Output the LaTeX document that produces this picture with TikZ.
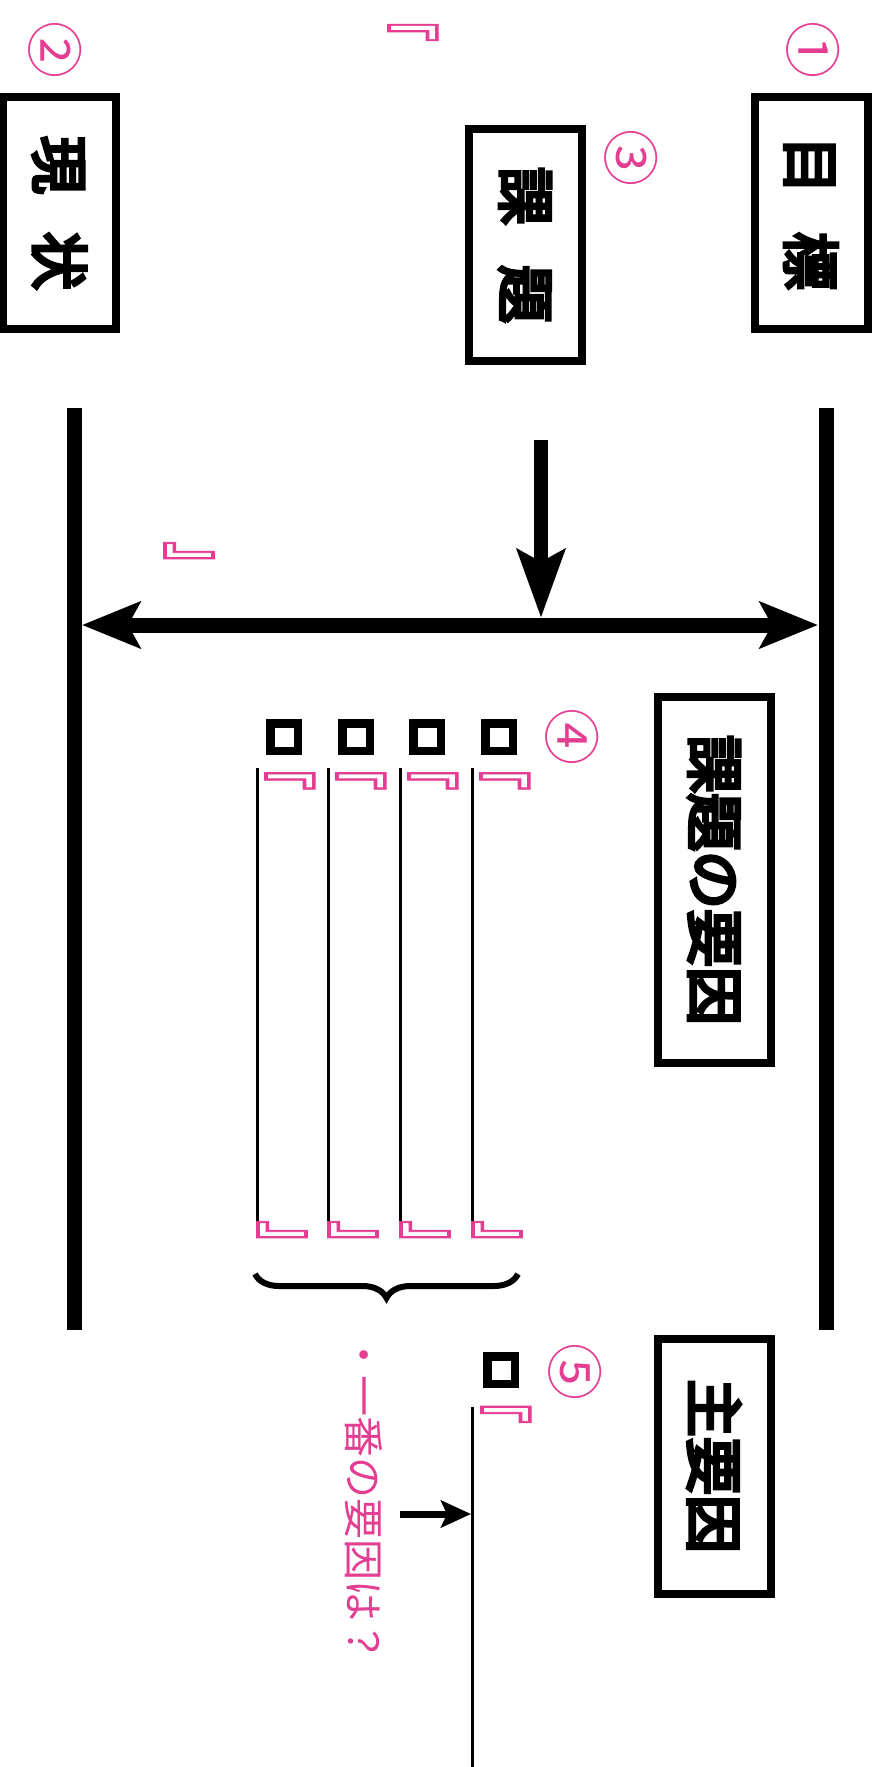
\documentclass[tikz,border=0pt]{standalone}
\usepackage{fontspec}
\newfontfamily\jp{Noto Sans CJK JP}
\newfontfamily\jpb{Noto Sans CJK JP}[FakeBold=6]
\newfontfamily\jpm{Noto Sans CJK JP}[FakeBold=1.5]
\usetikzlibrary{arrows.meta,decorations.pathreplacing}
\definecolor{pk}{RGB}{228,62,146}
\newcommand{\lbrk}{\scalebox{0.6}[1]{『}}
\newcommand{\rbrk}{\scalebox{0.6}[1]{』}}
\begin{document}
\begin{tikzpicture}[x=1pt,y=-1pt,
  box/.style={draw, line width=8pt, rotate=-90, inner sep=0pt, minimum height=113pt, font=\jpb\fontsize{58pt}{58pt}\selectfont},
  num/.style={rotate=-90, text=pk, font=\jp\fontsize{57pt}{57pt}\selectfont, inner sep=0pt},
  brk/.style={rotate=-90, text=pk, font=\jpm\fontsize{76pt}{76pt}\selectfont, inner sep=0pt},
  sq/.style={draw, line width=8.5pt, minimum size=27.5pt, inner sep=0pt},
  thinline/.style={line width=3pt},
  thickline/.style={line width=15pt},
]
\useasboundingbox (0,0) rectangle (878,1767);
% boxes
\node[box, minimum width=232pt] (mokuhyo) at (811,213) {目\hspace{38pt}標};
\node[box, minimum width=232pt] (genjo) at (59.5,213) {現\hspace{38pt}状};
\node[box, minimum width=232pt] (kadai) at (525,245) {課\hspace{40pt}題};
\node[box, minimum width=366pt] (yoin) at (714,880) {課題の要因};
\node[box, minimum width=255pt] (shuyoin) at (714,1466) {主要因};
% circled numbers
\node[num] (n1) at (813,50) {①};
\node[num] (n2) at (55,50) {②};
\node[num] (n3) at (631,158) {③};
\node[num] (n4) at (572,737) {④};
\node[num] (n5) at (575,1372) {⑤};
% main vertical lines
\coordinate (L1) at (74,408); \coordinate (L2) at (74,1330);
\coordinate (R1) at (826,408); \coordinate (R2) at (826,1330);
\draw[thickline] (L1) -- (L2);
\draw[thickline] (R1) -- (R2);
% double arrow
\coordinate (dl) at (82,625); \coordinate (dr) at (818,625);
\draw[thickline, {Stealth[length=58pt,width=46pt,inset=12pt]}-{Stealth[length=58pt,width=46pt,inset=12pt]}] (dl) -- (dr);
% down arrow
\coordinate (d1) at (541,440); \coordinate (d2) at (541,618);
\draw[line width=14pt, -{Stealth[length=68pt,width=47pt,inset=12pt]}] (d1) -- (d2);
% brackets
\node[brk] (b0) at (406,31) {\scalebox{0.6}[1]{\hspace*{-0.5em}『}};
\node[brk] (b00) at (189,563.5) {\rbrk};
% squares and lines
\foreach \i/\sx/\lx in {1/284/257,2/356/328,3/427/400,4/499/472}{
  \node[sq] (s\i) at (\sx,737) {};
  \coordinate (t\i) at (\lx,768);
  \coordinate (u\i) at (\lx,1235);
  \draw[thinline] (t\i) -- (u\i);
  \node[brk] (bt\i) at (\lx+26,768) {\lbrk};
  \node[brk] (bb\i) at (\lx+25,1242.5) {\rbrk};
}
% brace
\coordinate (br1) at (518,1274); \coordinate (br2) at (255,1274);
\draw[line width=6pt, decorate, decoration={brace, amplitude=24pt}] (br1) -- (br2);
% main factor
\node[sq] (s5) at (501,1370) {};
\coordinate (t5) at (472,1407); \coordinate (u5) at (472,1767);
\draw[thinline] (t5) -- (u5);
\node[brk] (bt5) at (499,1401.5) {\lbrk};
% question
\node[rotate=-90, text=pk, font=\jp\fontsize{41pt}{41pt}\selectfont, inner sep=0pt] (q) at (364,1498) {・一番の要因は？};
\coordinate (q1) at (400,1514); \coordinate (q2) at (471,1514);
\draw[line width=7pt, -{Stealth[length=30pt,width=27pt,inset=6pt]}] (q1) -- (q2);
\end{tikzpicture}
\end{document}
